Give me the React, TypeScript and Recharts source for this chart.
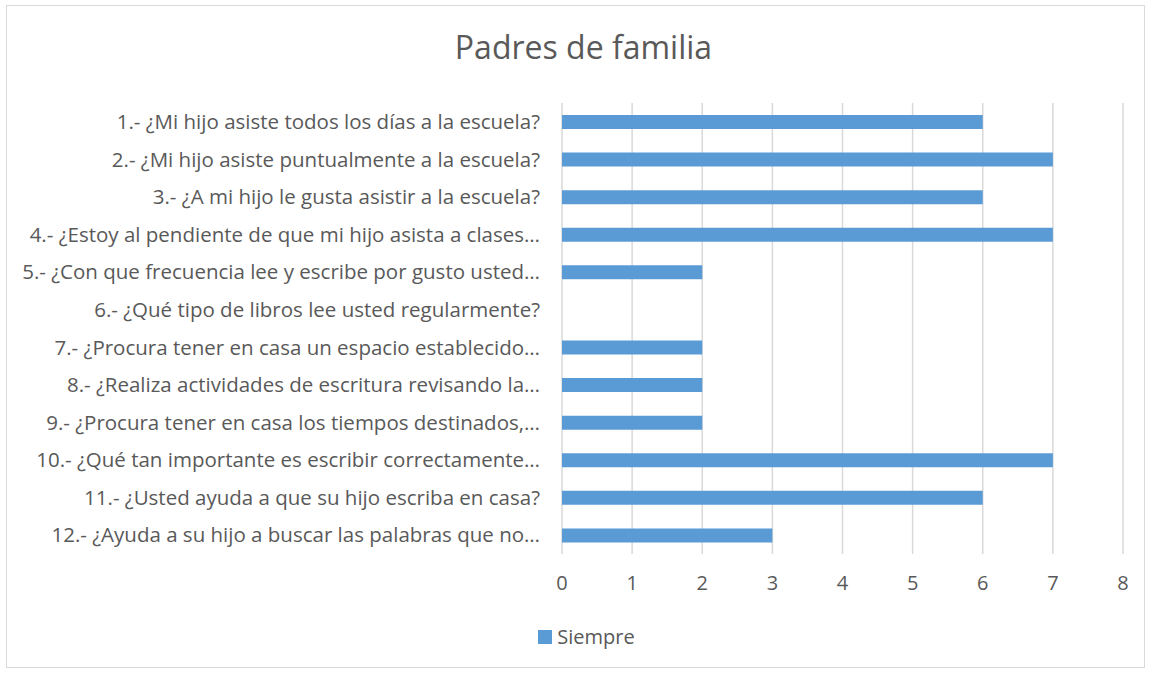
import React from 'react';
import { BarChart, Bar, XAxis, YAxis, CartesianGrid } from 'recharts';

const preguntas: string[] = [
    '1.- ¿Mi hijo asiste todos los días a la escuela?',
    '2.- ¿Mi hijo asiste puntualmente a la escuela?',
    '3.- ¿A mi hijo le gusta asistir a la escuela?',
    '4.- ¿Estoy al pendiente de que mi hijo asista a clases…',
    '5.- ¿Con que frecuencia lee y escribe por gusto usted…',
    '6.- ¿Qué tipo de libros lee usted regularmente?',
    '7.- ¿Procura tener en casa un espacio establecido…',
    '8.- ¿Realiza actividades de escritura revisando la…',
    '9.- ¿Procura tener en casa los tiempos destinados,…',
    '10.- ¿Qué tan importante es escribir correctamente…',
    '11.- ¿Usted ayuda a que su hijo escriba en casa?',
    '12.- ¿Ayuda a su hijo a buscar las palabras que no…',
];

const siempre: number[] = [6, 7, 6, 7, 2, 0, 2, 2, 2, 7, 6, 3];

const xTicks: number[] = [0, 1, 2, 3, 4, 5, 6, 7, 8];

const textColor = '#595959';
const barColor = '#5B9BD5';
const font = '"Open Sans", Carlito, sans-serif';

const data = preguntas.map((q, i) => ({ pregunta: q, siempre: siempre[i] }));

const App: React.FC = () => {
    return (
        <div style={{ position: 'absolute', left: 6, top: 5, width: 1137, height: 661, border: '1px solid #d9d9d9', background: '#fff' }}>
            <div style={{ position: 'absolute', top: 19, left: 8, width: '100%', textAlign: 'center', fontFamily: font, fontSize: 32, color: textColor }}>
                Padres de familia
            </div>
            <BarChart
                width={1137}
                height={661}
                data={data}
                layout="vertical"
                margin={{ top: 97, right: 21, left: 0, bottom: 73 }}
                style={{ fontFamily: font }}
            >
                <CartesianGrid stroke="#d9d9d9" strokeWidth={1.5} horizontal={false} />
                <XAxis
                    type="number"
                    domain={[0, 8]}
                    ticks={xTicks}
                    axisLine={false}
                    tickLine={false}
                    tickMargin={16}
                    height={40}
                    tick={{ fill: textColor, fontSize: 20 }}
                />
                <YAxis
                    dataKey="pregunta"
                    type="category"
                    width={555}
                    axisLine={false}
                    tickLine={false}
                    tickMargin={16}
                    interval={0}
                    tick={{ fill: textColor, fontSize: 20.5 }}
                />
                <Bar dataKey="siempre" name="Siempre" fill={barColor} barSize={14} isAnimationActive={false} />
            </BarChart>
            <div style={{ position: 'absolute', top: 617, left: 11, width: '100%', display: 'flex', justifyContent: 'center', alignItems: 'center', fontFamily: font, fontSize: 20, color: textColor }}>
                <span style={{ width: 14, height: 14, background: barColor, display: 'inline-block', marginRight: 5 }} />
                <span>Siempre</span>
            </div>
        </div>
    );
};

export default App;
